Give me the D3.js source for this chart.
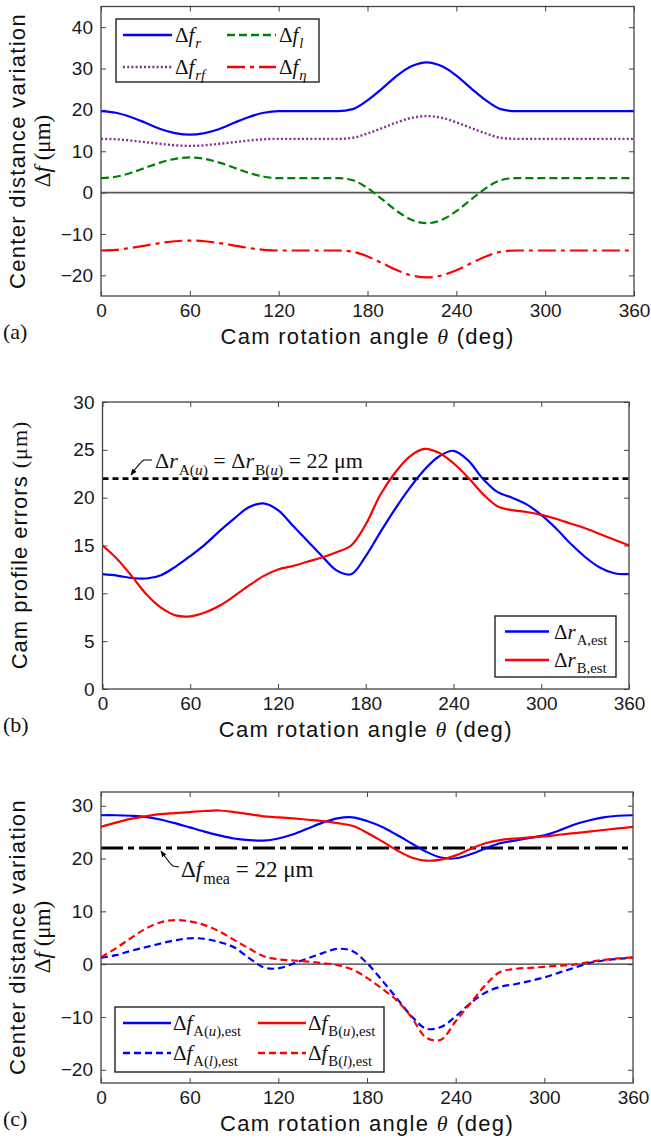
<!DOCTYPE html>
<html><head><meta charset="utf-8">
<script src="https://cdn.jsdelivr.net/npm/d3@7"></script>
<style>body{margin:0;background:#fff} svg{display:block}</style>
</head><body>
<svg id="chart" width="651" height="1138"></svg>
<script>
// ---------------- DATA ----------------
const xTicks = [0, 60, 120, 180, 240, 300, 360];
const yTicksA = [-20, -10, 0, 10, 20, 30, 40];
const yTicksB = [0, 5, 10, 15, 20, 25, 30];
const yTicksC = [-20, -10, 0, 10, 20, 30];

const theta = [0,10,20,30,40,50,60,70,80,90,100,110,120,130,140,150,160,170,180,190,200,210,220,230,240,250,260,270,280,290,300,310,320,330,340,350,360];

// panel (a)
const dfR   = [19.7,19.3,18.3,16.9,15.4,14.4,14.0,14.4,15.4,16.9,18.3,19.3,19.7,19.7,19.7,19.7,19.7,20.2,22.3,25.2,28.3,30.6,31.5,30.6,28.3,25.2,22.3,20.2,19.7,19.7,19.7,19.7,19.7,19.7,19.7,19.7,19.7];
const dfRf  = [13.0,12.9,12.6,12.2,11.8,11.45,11.3,11.45,11.8,12.2,12.6,12.9,13.0,13.0,13.0,13.0,13.0,13.25,14.3,15.6,17.0,18.1,18.5,18.1,17.0,15.6,14.3,13.25,13.0,13.0,13.0,13.0,13.0,13.0,13.0,13.0,13.0];
const dfL   = [3.5,3.83,4.75,6.0,7.25,8.17,8.5,8.17,7.25,6.0,4.75,3.83,3.5,3.5,3.5,3.5,3.5,3.0,1.1,-1.65,-4.5,-6.6,-7.4,-6.6,-4.5,-1.65,1.1,3.0,3.5,3.5,3.5,3.5,3.5,3.5,3.5,3.5,3.5];
const dfEta = [-14.0,-13.84,-13.4,-12.8,-12.2,-11.76,-11.6,-11.76,-12.2,-12.8,-13.4,-13.84,-14.0,-14.0,-14.0,-14.0,-14.0,-14.3,-15.43,-17.07,-18.77,-20.03,-20.5,-20.03,-18.77,-17.07,-15.43,-14.3,-14.0,-14.0,-14.0,-14.0,-14.0,-14.0,-14.0,-14.0,-14.0];

// panel (b)
const drA = [12.0,11.85,11.6,11.55,11.9,12.8,13.9,15.1,16.5,17.8,19.0,19.4,18.7,17.1,15.5,13.9,12.4,12.0,13.9,16.4,18.8,21.0,22.9,24.3,24.9,23.9,22.0,20.6,20.0,19.3,18.2,16.8,15.2,13.8,12.7,12.1,12.0];
const drB = [15.0,13.6,11.8,9.9,8.5,7.7,7.6,8.0,8.7,9.7,10.8,11.8,12.5,12.85,13.3,13.75,14.3,15.0,17.2,20.3,22.6,24.3,25.1,24.7,23.6,22.1,20.4,19.1,18.7,18.5,18.2,17.8,17.3,16.8,16.2,15.6,15.0];
const drLimit = 22;

// panel (c)
const dfAu = [28.2,28.2,28.1,27.9,27.4,26.7,25.9,25.1,24.4,23.8,23.5,23.4,23.8,24.6,25.7,26.8,27.6,27.8,27.1,26.0,24.5,22.9,21.3,20.2,20.05,20.8,21.9,22.9,23.4,23.9,24.4,25.3,26.4,27.2,27.8,28.1,28.2];
const dfBu = [26.0,26.8,27.5,28.0,28.4,28.6,28.8,29.0,29.1,28.8,28.4,28.0,27.8,27.6,27.35,27.1,26.7,26.2,24.9,23.3,21.6,20.2,19.6,19.8,20.6,21.8,22.9,23.5,23.8,24.0,24.2,24.5,24.8,25.1,25.4,25.7,26.0];
const dfAl = [1.2,1.7,2.5,3.2,3.9,4.5,4.9,4.8,4.2,3.2,1.2,-0.6,-0.8,0.1,1.1,2.1,2.9,2.5,0.2,-3.0,-6.4,-9.8,-12.2,-11.9,-9.9,-7.4,-5.4,-4.3,-3.8,-3.2,-2.5,-1.6,-0.7,0.2,0.7,1.0,1.2];
const dfBl = [1.3,3.0,4.9,6.7,7.9,8.35,8.1,7.4,6.2,4.6,3.0,1.5,0.9,0.7,0.5,0.2,-0.2,-1.0,-2.6,-4.6,-6.8,-10.0,-13.9,-14.3,-10.8,-7.4,-4.0,-1.5,-0.9,-0.7,-0.5,-0.3,-0.1,0.4,0.8,1.1,1.3];
const dfMea = 22;

// ---------------- DRAWING ----------------
const SANS = "'Liberation Sans', Arial, Helvetica, sans-serif";
const SERIF = "'Liberation Serif', 'Times New Roman', serif";
const svg = d3.select("#chart");
const defs = svg.append("defs");
defs.append("marker").attr("id","arrow").attr("viewBox","0 0 10 10").attr("refX",9).attr("refY",5)
  .attr("markerWidth",6).attr("markerHeight",6).attr("orient","auto-start-reverse")
  .append("path").attr("d","M0,1 L10,5 L0,9 z").attr("fill","#000");

function rich(parent, x, y, parts, size, anchor) {
  const t = parent.append("text").attr("x", x).attr("y", y)
    .attr("font-family", SERIF).attr("font-size", size)
    .attr("text-anchor", anchor || "start").attr("fill", "#111");
  let cur = 0;
  parts.forEach(p => {
    const ts = t.append("tspan").text(p.t);
    const target = p.sub ? size * 0.3 : 0;
    if (target !== cur) { ts.attr("dy", target - cur); cur = target; }
    if (p.dx) ts.attr("dx", p.dx);
    if (p.sub) ts.attr("font-size", size * 0.7);
    if (p.i) ts.attr("font-style", "italic");
    if (p.sans) ts.attr("font-family", SANS);
  });
  return t;
}

function panel(cfg) {
  const x = d3.scaleLinear().domain([0, 360]).range([cfg.x0, cfg.x1]);
  const y = d3.scaleLinear().domain(cfg.yd).range([cfg.y1, cfg.y0]);
  const g = svg.append("g");
  const id = "clip_" + cfg.name;
  defs.append("clipPath").attr("id", id).append("rect")
    .attr("x", cfg.x0).attr("y", cfg.y0).attr("width", cfg.x1 - cfg.x0).attr("height", cfg.y1 - cfg.y0);

  const styleAxis = sel => {
    sel.select(".domain").remove();
    sel.selectAll(".tick line").attr("stroke", "#444").attr("stroke-width", 1);
    sel.selectAll(".tick text").attr("font-family", SANS).attr("font-size", 19).attr("fill", "#1a1a1a");
  };
  g.append("g").attr("transform", `translate(0,${cfg.y1})`)
    .call(d3.axisBottom(x).tickValues(xTicks).tickSize(-5).tickPadding(8)).call(styleAxis);
  g.append("g").attr("transform", `translate(0,${cfg.y0})`)
    .call(d3.axisTop(x).tickValues(xTicks).tickSize(-5).tickFormat("")).call(styleAxis);
  g.append("g").attr("transform", `translate(${cfg.x0},0)`)
    .call(d3.axisLeft(y).tickValues(cfg.yt).tickSize(-5).tickPadding(8)).call(styleAxis);
  g.append("g").attr("transform", `translate(${cfg.x1},0)`)
    .call(d3.axisRight(y).tickValues(cfg.yt).tickSize(-5).tickFormat("")).call(styleAxis);

  const plot = g.append("g").attr("clip-path", `url(#${id})`);
  g.append("rect").attr("x", cfg.x0).attr("y", cfg.y0).attr("width", cfg.x1 - cfg.x0).attr("height", cfg.y1 - cfg.y0)
    .attr("fill", "none").attr("stroke", "#444").attr("stroke-width", 1.3);

  // x label
  const xl = g.append("text").attr("x", (cfg.x0 + cfg.x1) / 2).attr("y", cfg.y1 + 48)
    .attr("text-anchor", "middle").attr("font-family", SANS).attr("font-size", 22)
    .attr("fill", "#111").style("letter-spacing", "1.3px");
  xl.append("tspan").text("Cam rotation angle ");
  xl.append("tspan").text("θ").attr("font-family", SERIF).attr("font-style", "italic");
  xl.append("tspan").text(" (deg)");
  // panel letter
  g.append("text").attr("x", 3).attr("y", cfg.y1 + 43).attr("font-family", SERIF).attr("font-size", 22)
    .attr("fill", "#111").text(cfg.letter);
  return { x, y, g, plot };
}

function curve(p, xs, ys, color, dash, w, curveType) {
  const line = d3.line().x((d, i) => p.x(xs[i])).y(d => p.y(d)).curve(curveType || d3.curveCatmullRom.alpha(0.5));
  p.plot.append("path").attr("d", line(ys)).attr("fill", "none").attr("stroke", color)
    .attr("stroke-width", w || 2.2).attr("stroke-dasharray", dash || null);
}
function hline(p, v, color, dash, w) {
  p.plot.append("line").attr("x1", p.x(0)).attr("x2", p.x(360)).attr("y1", p.y(v)).attr("y2", p.y(v))
    .attr("stroke", color).attr("stroke-width", w).attr("stroke-dasharray", dash || null);
}
function ylabel2(cx, cy, line1, sub) {
  const g1 = svg.append("g").attr("transform", `translate(${cx},${cy}) rotate(-90)`);
  g1.append("text").attr("text-anchor", "middle").attr("font-family", SANS).attr("font-size", 22)
    .attr("fill", "#111").style("letter-spacing", "1.3px").text(line1);
}

const BLUE = "#0000ff", RED = "#ff0000", GREEN = "#008000", PURPLE = "#8b2a9b";

// ===== Panel (a) =====
const pa = panel({ name: "a", x0: 101, x1: 634, y0: 6.5, y1: 296, yd: [-25, 45], yt: yTicksA, letter: "(a)" });
hline(pa, 0, "#555", null, 1.8);
curve(pa, theta, dfR, BLUE, null, 2.2, d3.curveMonotoneX);
curve(pa, theta, dfRf, PURPLE, "2,2.2", 2.4, d3.curveMonotoneX);
curve(pa, theta, dfL, GREEN, "8,4", 2.2, d3.curveMonotoneX);
curve(pa, theta, dfEta, RED, "18,5,4,5", 2.2, d3.curveMonotoneX);
{
  const L = pa.g.append("g");
  L.append("rect").attr("x", 116).attr("y", 19).attr("width", 203).attr("height", 63)
    .attr("fill", "#fff").attr("stroke", "#222").attr("stroke-width", 1.4);
  const items = [
    { x: 123, y: 35, c: BLUE, d: null, sub: [{ t: "r", sub: 1, i: 1, dx: 1 }] },
    { x: 227, y: 35, c: GREEN, d: "8,4", sub: [{ t: "l", sub: 1, i: 1, dx: 1 }] },
    { x: 123, y: 67, c: PURPLE, d: "2,2.2", sub: [{ t: "rf", sub: 1, i: 1, dx: 1 }] },
    { x: 227, y: 67, c: RED, d: "18,5,4,5", sub: [{ t: "η", sub: 1, i: 1, dx: 1 }] }
  ];
  items.forEach(it => {
    L.append("line").attr("x1", it.x).attr("x2", it.x + 49).attr("y1", it.y).attr("y2", it.y)
      .attr("stroke", it.c).attr("stroke-width", 2.4).attr("stroke-dasharray", it.d);
    rich(L, it.x + 52, it.y + 7, [{ t: "Δ" }, { t: "f", i: 1 }].concat(it.sub), 21);
  });
}
ylabel2(25, 151, "Center distance variation");
rich(svg.append("g").attr("transform", "translate(50,151) rotate(-90)"), 0, 0,
  [{ t: "Δ" }, { t: "f", i: 1 }, { t: " (μm)" }], 23, "middle");

// ===== Panel (b) =====
const pb = panel({ name: "b", x0: 102.5, x1: 629, y0: 402, y1: 689, yd: [0, 30], yt: yTicksB, letter: "(b)" });
hline(pb, drLimit, "#000", "6,4", 2.8);
curve(pb, theta, drA, BLUE, null, 2.2);
curve(pb, theta, drB, RED, null, 2.2);
{
  const A = pb.g.append("g");
  A.append("path").attr("d", "M152,460 L144,460 Q141,461 131,475").attr("fill", "none")
    .attr("stroke", "#000").attr("stroke-width", 1.1).attr("marker-end", "url(#arrow)");
  rich(A, 155, 468, [{ t: "Δ" }, { t: "r", i: 1 }, { t: "A(", sub: 1, dx: 1 }, { t: "u", sub: 1, i: 1 }, { t: ")", sub: 1 },
    { t: " = Δ" }, { t: "r", i: 1 }, { t: "B(", sub: 1, dx: 1 }, { t: "u", sub: 1, i: 1 }, { t: ")", sub: 1 }, { t: " = 22 μm" }], 22);
  const L = pb.g.append("g");
  L.append("rect").attr("x", 495).attr("y", 616).attr("width", 121).attr("height", 61)
    .attr("fill", "#fff").attr("stroke", "#222").attr("stroke-width", 1.4);
  [[631.5, BLUE, "A,est"], [660, RED, "B,est"]].forEach(([yy, c, s]) => {
    L.append("line").attr("x1", 505).attr("x2", 549).attr("y1", yy).attr("y2", yy).attr("stroke", c).attr("stroke-width", 2.4);
    rich(L, 554, yy + 7, [{ t: "Δ" }, { t: "r", i: 1 }, { t: s, sub: 1, dx: 1 }], 21);
  });
}
{
  const g1 = svg.append("g").attr("transform", "translate(27,545) rotate(-90)");
  const t = g1.append("text").attr("text-anchor", "middle").attr("font-family", SANS).attr("font-size", 22)
    .attr("fill", "#111").style("letter-spacing", "1.0px");
  t.append("tspan").text("Cam profile errors ");
  t.append("tspan").text("(μm)").attr("font-family", SERIF);
}

// ===== Panel (c) =====
const pc = panel({ name: "c", x0: 101, x1: 633, y0: 792, y1: 1083, yd: [-22.5, 32.6], yt: yTicksC, letter: "(c)" });
hline(pc, 0, "#333", null, 1.2);
hline(pc, dfMea, "#000", "22,5,6,5", 2.8);
curve(pc, theta, dfAu, BLUE, null, 2.2);
curve(pc, theta, dfBu, RED, null, 2.2);
curve(pc, theta, dfAl, BLUE, "7,4", 2.2);
curve(pc, theta, dfBl, RED, "7,4", 2.2);
{
  const A = pc.g.append("g");
  A.append("path").attr("d", "M179,867 L173,866 Q170,864 161,851").attr("fill", "none")
    .attr("stroke", "#000").attr("stroke-width", 1.1).attr("marker-end", "url(#arrow)");
  rich(A, 181, 877, [{ t: "Δ" }, { t: "f", i: 1 }, { t: "mea", sub: 1, dx: 1 }, { t: " = 22 μm" }], 23);
  const L = pc.g.append("g");
  L.append("rect").attr("x", 115).attr("y", 1007).attr("width", 269).attr("height", 65)
    .attr("fill", "#fff").attr("stroke", "#222").attr("stroke-width", 1.4);
  const items = [
    { x: 123, y: 1023, c: BLUE, d: null, s: "A", v: "u" },
    { x: 258, y: 1023, c: RED, d: null, s: "B", v: "u" },
    { x: 123, y: 1053, c: BLUE, d: "7,4", s: "A", v: "l" },
    { x: 258, y: 1053, c: RED, d: "7,4", s: "B", v: "l" }
  ];
  items.forEach(it => {
    L.append("line").attr("x1", it.x).attr("x2", it.x + 48).attr("y1", it.y).attr("y2", it.y)
      .attr("stroke", it.c).attr("stroke-width", 2.4).attr("stroke-dasharray", it.d);
    rich(L, it.x + 50, it.y + 7, [{ t: "Δ" }, { t: "f", i: 1 }, { t: it.s + "(", sub: 1, dx: 1 },
      { t: it.v, sub: 1, i: 1 }, { t: "),est", sub: 1 }], 21);
  });
}
ylabel2(25, 937, "Center distance variation");
rich(svg.append("g").attr("transform", "translate(50,937) rotate(-90)"), 0, 0,
  [{ t: "Δ" }, { t: "f", i: 1 }, { t: " (μm)" }], 23, "middle");
</script>
</body></html>
